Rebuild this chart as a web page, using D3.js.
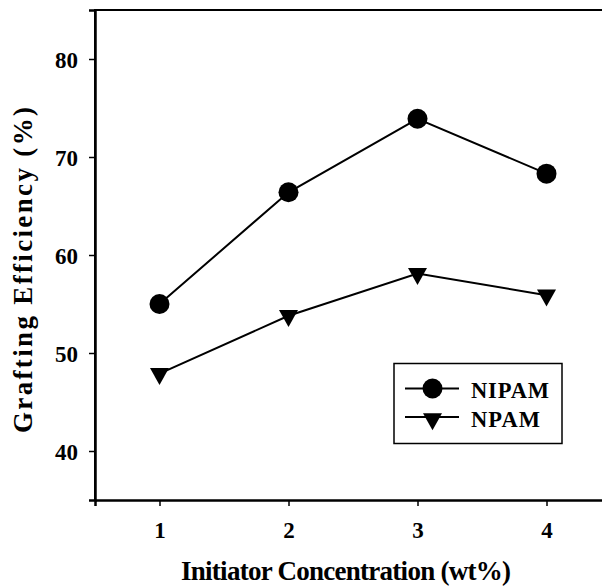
<!DOCTYPE html>
<html><head><meta charset="utf-8">
<script src="https://cdn.jsdelivr.net/npm/d3@7"></script>
<style>body{margin:0;background:#fff}svg{display:block}text{font-family:"Liberation Serif","Times New Roman",serif;font-weight:bold;fill:#000}</style>
</head><body>
<script>
const concentrations = [1, 2, 3, 4];
const nipam = [55.0, 66.4, 73.9, 68.3];
const npam = [47.9, 53.8, 58.1, 55.9];
const xTicks = [1, 2, 3, 4];
const yTicks = [40, 50, 60, 70, 80];
const seriesNames = ["NIPAM", "NPAM"];

const W = 602, H = 586;
const svg = d3.select("body").append("svg").attr("width", W).attr("height", H);
const x = d3.scaleLinear().domain([0.5, 4.5]).range([95, 611]);
const y = d3.scaleLinear().domain([35, 85]).range([500, 10]);

// frame
svg.append("path").attr("d", `M95,${y(35)}V${y(85)}H615`).attr("fill","none").attr("stroke","#000").attr("stroke-width",2);

const xAxis = svg.append("g").attr("transform", `translate(0,${y(35)})`)
  .call(d3.axisBottom(x).tickValues(xTicks).tickFormat(d3.format("d")).tickSize(6).tickPadding(16));
xAxis.select(".domain").attr("stroke-width",2.5);
xAxis.selectAll(".tick line").attr("stroke-width",1.5);
xAxis.selectAll("text").attr("font-size",23).attr("font-family","Liberation Serif").attr("font-weight","bold");

const yAxis = svg.append("g").attr("transform", `translate(95,0)`)
  .call(d3.axisLeft(y).tickValues(yTicks).tickFormat(d3.format("d")).tickSize(6).tickPadding(11));
yAxis.select(".domain").attr("stroke-width",2.5);
yAxis.selectAll(".tick line").attr("stroke-width",1.5);
yAxis.selectAll("text").attr("font-size",23).attr("font-family","Liberation Serif").attr("font-weight","bold").attr("dy","0.35em");

svg.append("text").attr("x",346).attr("y",580).attr("text-anchor","middle").attr("font-size",27)
  .attr("textLength",330).attr("lengthAdjust","spacing").text("Initiator Concentration (wt%)");
svg.append("text").attr("transform","translate(32,270) rotate(-90)").attr("text-anchor","middle").attr("font-size",27)
  .attr("textLength",326).attr("lengthAdjust","spacing").text("Grafting Efficiency (%)");

const line = d3.line().x((d,i)=>x(concentrations[i])).y(d=>y(d));
const triPath = "M-9.5,-5.7L9.5,-5.7L0,11.3Z";

svg.append("path").datum(nipam).attr("d",line).attr("fill","none").attr("stroke","#000").attr("stroke-width",2);
svg.append("path").datum(npam).attr("d",line).attr("fill","none").attr("stroke","#000").attr("stroke-width",2);
svg.selectAll("circle.p").data(nipam).enter().append("circle")
  .attr("cx",(d,i)=>x(concentrations[i])).attr("cy",d=>y(d)).attr("r",10).attr("fill","#000");
svg.selectAll("path.t").data(npam).enter().append("path").attr("class","t")
  .attr("transform",(d,i)=>`translate(${x(concentrations[i])},${y(d)})`).attr("d",triPath).attr("fill","#000");

// legend
const lg = svg.append("g");
lg.append("rect").attr("x",394).attr("y",363.5).attr("width",168).attr("height",80).attr("fill","#fff").attr("stroke","#000").attr("stroke-width",1.5);
const legendTextLen = [78, 69];
[0,1].forEach(i=>{
  const cy = i===0 ? 388.5 : 417;
  lg.append("line").attr("x1",405).attr("x2",459).attr("y1",cy).attr("y2",cy).attr("stroke","#000").attr("stroke-width",2);
  if(i===0) lg.append("circle").attr("cx",432.5).attr("cy",cy).attr("r",10).attr("fill","#000");
  else lg.append("path").attr("transform",`translate(432.5,${cy+2})`).attr("d",triPath).attr("fill","#000");
  lg.append("text").attr("x",471).attr("y",i===0?397.5:426.5).attr("font-size",22.5)
    .attr("textLength",legendTextLen[i]).attr("lengthAdjust","spacing").text(seriesNames[i]);
});
</script>
</body></html>
